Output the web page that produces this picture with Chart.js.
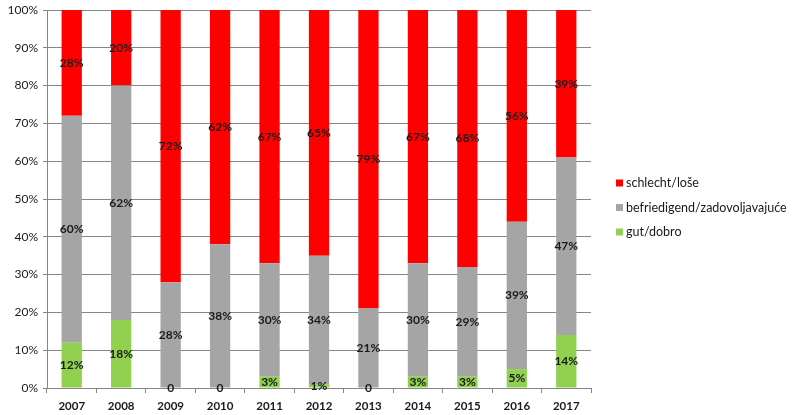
<!DOCTYPE html>
<html><head><meta charset="utf-8">
<script src="https://cdn.jsdelivr.net/npm/chart.js@4/dist/chart.umd.min.js"></script>
<style>html,body{margin:0;padding:0;background:#fff}#wrap{width:793px;height:415px}</style>
</head><body><div id="wrap"><canvas id="c"></canvas></div>
<script>
const years = ['2007','2008','2009','2010','2011','2012','2013','2014','2015','2016','2017'];
const gut = [12,18,0,0,3,1,0,3,3,5,14];
const befriedigend = [60,62,28,38,30,34,21,30,29,39,47];
const schlecht = [28,20,72,62,67,65,79,67,68,56,39];
const seriesNames = ['gut/dobro','befriedigend/zadovoljavajuće','schlecht/loše'];
const seriesColors = ['#92D050','#A5A5A5','#FF0000'];
const yTicks = [0,10,20,30,40,50,60,70,80,90,100];

const FONT = 'Lato, "Open Sans", sans-serif';

const labelPlugin = {
  id: 'labels',
  afterDatasetsDraw(chart) {
    const ctx = chart.ctx;
    ctx.save();
    ctx.font = 'bold 12px ' + FONT;
    ctx.fillStyle = '#1a1a1a';
    ctx.textAlign = 'center';
    ctx.textBaseline = 'middle';
    chart.data.datasets.forEach((ds, i) => {
      const meta = chart.getDatasetMeta(i);
      meta.data.forEach((bar, j) => {
        const v = ds.data[j];
        const y = (bar.y + bar.base) / 2;
        ctx.fillText(v === 0 ? '0' : v + '%', bar.x, y);
      });
    });
    ctx.restore();
  }
};

const legendPlugin = {
  id: 'customLegend',
  afterDraw(chart) {
    const ctx = chart.ctx;
    ctx.save();
    ctx.font = '12.5px ' + FONT;
    ctx.textBaseline = 'middle';
    ctx.textAlign = 'left';
    const x = 616, y0 = 183, step = 24.5;
    for (let k = 0; k < 3; k++) {
      const idx = 2 - k;
      const y = y0 + k * step;
      ctx.fillStyle = seriesColors[idx];
      ctx.fillRect(x, y - 3.5, 7, 7);
      ctx.fillStyle = '#1a1a1a';
      ctx.fillText(seriesNames[idx], x + 10, y);
    }
    ctx.restore();
  }
};

new Chart(document.getElementById('c'), {
  type: 'bar',
  data: {
    labels: years,
    datasets: [
      { label: seriesNames[0], data: gut, backgroundColor: seriesColors[0] },
      { label: seriesNames[1], data: befriedigend, backgroundColor: seriesColors[1] },
      { label: seriesNames[2], data: schlecht, backgroundColor: seriesColors[2] }
    ]
  },
  options: {
    responsive: true,
    maintainAspectRatio: false,
    animation: false,
    barPercentage: 0.41,
    categoryPercentage: 1.0,
    layout: { padding: { left: 0, right: 202, top: 10, bottom: 0 } },
    plugins: { legend: { display: false }, tooltip: { enabled: false } },
    scales: {
      x: {
        stacked: true,
        grid: { offset: true, drawOnChartArea: false, drawTicks: true, tickLength: 5, color: '#868686' },
        border: { color: '#868686' },
        ticks: { font: { family: FONT, size: 11.5, weight: 'bold' }, color: '#1a1a1a', padding: 6 },
        afterFit(s) { s.height = 27; s.paddingLeft = 0; s.paddingRight = 0; }
      },
      y: {
        stacked: true,
        min: 0, max: 100,
        afterBuildTicks(s) { s.ticks = yTicks.map(v => ({ value: v })); },
        grid: { color: '#868686', tickLength: 4 },
        border: { color: '#868686' },
        ticks: { font: { family: FONT, size: 12 }, color: '#1a1a1a', padding: 5, callback: v => v + '%' },
        afterFit(s) { s.width = 47; s.paddingTop = 0; s.paddingBottom = 0; }
      }
    }
  },
  plugins: [labelPlugin, legendPlugin]
});
</script></body></html>
